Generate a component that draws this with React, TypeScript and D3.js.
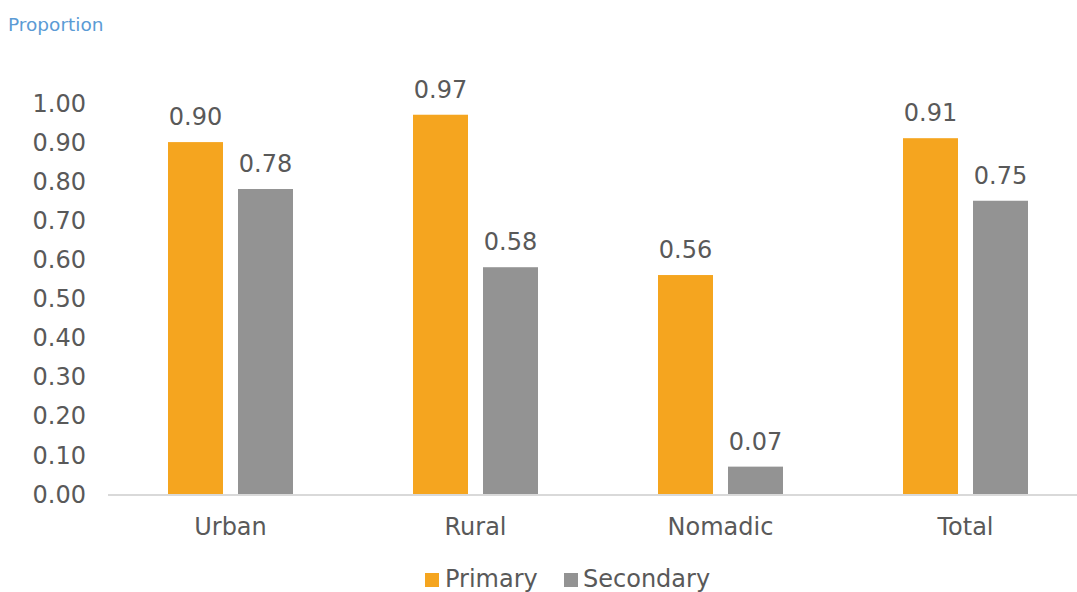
import React from "react";
import * as d3 from "d3";

const categories = ["Urban", "Rural", "Nomadic", "Total"];
const seriesNames = ["Primary", "Secondary"];
const primary = [0.9, 0.97, 0.56, 0.91];
const secondary = [0.78, 0.58, 0.07, 0.75];
const yTicks = [0, 0.1, 0.2, 0.3, 0.4, 0.5, 0.6, 0.7, 0.8, 0.9, 1.0];
const colors = ["#F5A51F", "#939393"];

const W = 1077;
const H = 592;
const FONT = "'DejaVu Sans', sans-serif";
const TXT = "#595959";

export default function App() {
  const x0 = d3.scaleBand<string>().domain(categories).range([108, 1088]).paddingInner(0).paddingOuter(0);
  const x1 = d3.scaleBand<string>().domain(seriesNames).range([60, 185]).paddingInner(15 / 70).paddingOuter(0);
  const y = d3.scaleLinear().domain([0, 1]).range([494, 103]);
  const series = [primary, secondary];

  return (
    <svg width={W} height={H} style={{ position: "absolute", left: 0, top: 0, background: "#fff" }} fontFamily={FONT}>
      <text x={8} y={31} fontSize={18.5} fill="#5B9BD5">Proportion</text>
      {yTicks.map((t) => (
        <text key={t} x={86} y={y(t)} dy="0.36em" textAnchor="end" fontSize={24} fill={TXT}>
          {t.toFixed(2)}
        </text>
      ))}
      {categories.map((c, i) => (
        <g key={c} transform={`translate(${x0(c)},0)`}>
          {seriesNames.map((s, j) => {
            const v = series[j][i];
            const bx = x1(s)!;
            const bw = x1.bandwidth();
            return (
              <g key={s}>
                <rect x={bx} y={y(v)} width={bw} height={y(0) - y(v)} fill={colors[j]} />
                <text x={bx + bw / 2} y={y(v) - 17} textAnchor="middle" fontSize={24} fill={TXT}>
                  {v.toFixed(2)}
                </text>
              </g>
            );
          })}
          <text x={x0.bandwidth() / 2} y={535} textAnchor="middle" fontSize={24} fill={TXT}>{c}</text>
        </g>
      ))}
      <line x1={108} x2={W} y1={y(0) + 1} y2={y(0) + 1} stroke="#D9D9D9" strokeWidth={2} />
      <g>
        <rect x={425} y={573} width={14} height={14} fill={colors[0]} />
        <text x={445} y={587} fontSize={24} fill={TXT}>{seriesNames[0]}</text>
        <rect x={564} y={573} width={14} height={14} fill={colors[1]} />
        <text x={583} y={587} fontSize={24} fill={TXT}>{seriesNames[1]}</text>
      </g>
    </svg>
  );
}
